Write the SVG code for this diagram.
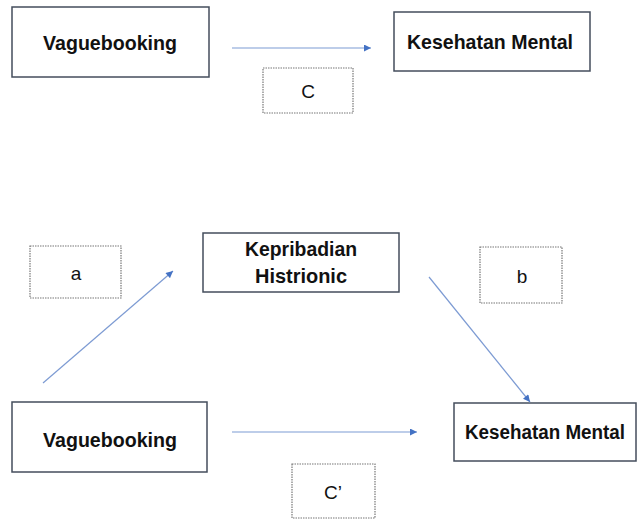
<svg xmlns="http://www.w3.org/2000/svg" width="640" height="520" viewBox="0 0 640 520">
<defs>
<marker id="ah" viewBox="0 0 10 10" refX="10" refY="5" markerWidth="8" markerHeight="7" markerUnits="userSpaceOnUse" orient="auto">
<path d="M0,0 L10,5 L0,10 z" fill="#4472C4"/>
</marker>
<style>
.box{fill:#fff;stroke:#444d5c;stroke-width:1.5}
.dot{fill:#fff;stroke:#777;stroke-width:1.2;stroke-dasharray:1.5 1}
.t{font-family:"Liberation Sans",Arial,sans-serif;font-weight:bold;font-size:21px;fill:#111;text-anchor:middle}
.l{font-family:"Liberation Sans",Arial,sans-serif;font-size:19px;fill:#111;text-anchor:middle}
.c{stroke:#7d9bd3;stroke-width:1.2;fill:none;marker-end:url(#ah)}
</style>
</defs>
<rect width="640" height="520" fill="#fff"/>
<g id="vb1"><rect class="box" x="12" y="7" width="197" height="70"/><text class="t" x="110" y="50" textLength="134" lengthAdjust="spacingAndGlyphs">Vaguebooking</text></g>
<g id="km1"><rect class="box" x="394" y="12" width="196" height="59"/><text class="t" x="490" y="49" textLength="166" lengthAdjust="spacingAndGlyphs">Kesehatan Mental</text></g>
<g id="lc"><rect class="dot" x="263" y="68" width="90" height="45"/><text class="l" x="308" y="98">C</text></g>
<g id="kh"><rect class="box" x="203" y="233" width="196" height="59"/><text class="t" x="301" y="256" textLength="112" lengthAdjust="spacingAndGlyphs">Kepribadian</text><text class="t" x="301" y="283" textLength="92" lengthAdjust="spacingAndGlyphs">Histrionic</text></g>
<g id="la"><rect class="dot" x="30" y="246" width="91" height="52"/><text class="l" x="76" y="280">a</text></g>
<g id="lb"><rect class="dot" x="480" y="247" width="82" height="56"/><text class="l" x="522" y="283">b</text></g>
<g id="vb2"><rect class="box" x="12" y="402" width="195" height="70"/><text class="t" x="110" y="447" textLength="134" lengthAdjust="spacingAndGlyphs">Vaguebooking</text></g>
<g id="km2"><rect class="box" x="454" y="403" width="182" height="58"/><text class="t" x="545" y="439" style="font-size:20px" textLength="160" lengthAdjust="spacingAndGlyphs">Kesehatan Mental</text></g>
<g id="lc2"><rect class="dot" x="292" y="464" width="83" height="54"/><text class="l" x="333" y="499">C’</text></g>
<g id="connectors">
<line class="c" x1="232" y1="48" x2="371" y2="48"/>
<line class="c" x1="43" y1="383" x2="173" y2="271"/>
<line class="c" x1="429" y1="277" x2="530" y2="402"/>
<line class="c" x1="232" y1="432" x2="417" y2="432"/>
</g>
</svg>
